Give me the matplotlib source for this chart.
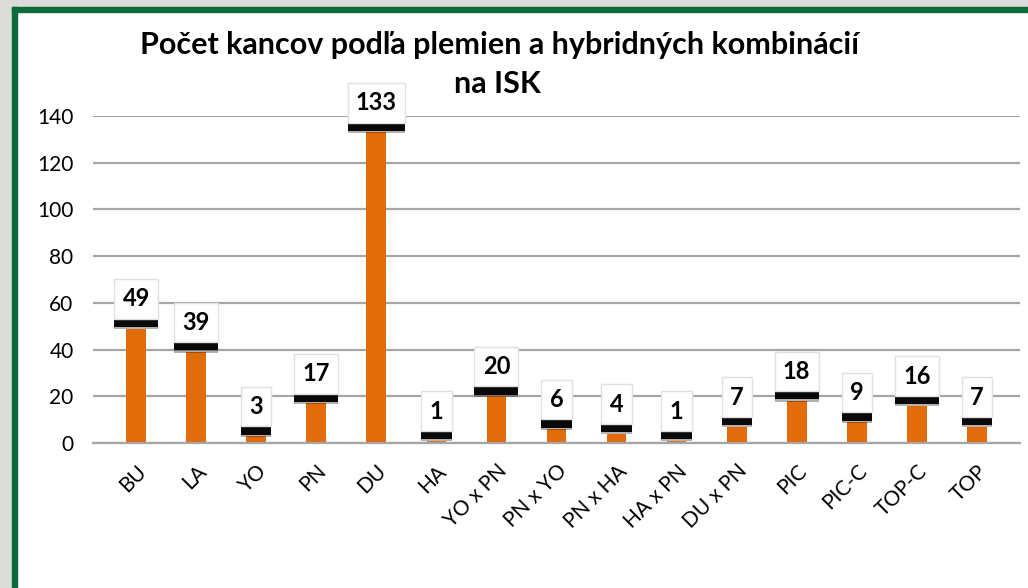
import matplotlib
matplotlib.use("Agg")
import matplotlib.pyplot as plt
import matplotlib.patheffects as pe
from matplotlib.patches import Rectangle

categories = ["BU", "LA", "YO", "PN", "DU", "HA", "YO x PN", "PN x YO", "PN x HA",
              "HA x PN", "DU x PN", "PIC", "PIC-C", "TOP-C", "TOP"]
counts = [49, 39, 3, 17, 133, 1, 20, 6, 4, 1, 7, 18, 9, 16, 7]
yticks = [0, 20, 40, 60, 80, 100, 120, 140]
title_lines = ["Počet kancov podľa plemien a hybridných kombinácií", "na ISK"]

plt.rcParams["font.family"] = ["Lato", "DejaVu Sans"]

fig = plt.figure(figsize=(10.28, 5.88), dpi=100, facecolor="white")
W, H = 1028, 588
# textured frame strips + green border
fig.patches.append(Rectangle((0, 0), 12 / W, 1, transform=fig.transFigure, color="#dcdcd8", zorder=0))
fig.patches.append(Rectangle((0, 1 - 7 / H), 1, 7 / H, transform=fig.transFigure, color="#dcdcd8", zorder=0))
fig.patches.append(Rectangle((12 / W, 0), 5 / W, 1 - 7 / H, transform=fig.transFigure, color="#0b6b3a", zorder=1))
fig.patches.append(Rectangle((12 / W, 1 - 12 / H), 1 - 12 / W, 5 / H, transform=fig.transFigure, color="#0b6b3a", zorder=1))

ax = fig.add_axes([93 / W, 145 / H, 927 / W, 327 / H])
ax.set_facecolor("none")
x = range(len(categories))
ax.bar(x, counts, width=0.33, color="#e36c0a", zorder=2)
ax.set_xlim(-0.72, len(categories) - 0.28)
ax.set_ylim(0, 140)
ax.set_yticks(yticks)
ax.yaxis.grid(True, color="#a6a6a6", lw=1.6, zorder=0)
for s in ["top", "right", "left"]:
    ax.spines[s].set_visible(False)
ax.spines["bottom"].set_color("#a6a6a6")
ax.spines["bottom"].set_linewidth(1.6)
ax.tick_params(length=0, labelsize=15, colors="black")
ax.tick_params(axis="y", pad=14)
ax.tick_params(axis="x", pad=13)
ax.set_xticks(list(x))
ax.set_xticklabels(categories, rotation=45, ha="right", rotation_mode="anchor")

# value labels: white box with a dark shadow underneath
for xi, v in zip(x, counts):
    t = ax.annotate(str(v), (xi, v), xytext=(0, 13), textcoords="offset points",
                    ha="center", va="bottom", fontsize=17, fontweight="bold", zorder=5,
                    bbox=dict(boxstyle="square,pad=0.35", fc="white", ec="#e0e0e0", lw=1))
    t.get_bbox_patch().set_path_effects([
        pe.SimplePatchShadow(offset=(0, -7.5), shadow_rgbFace="black", alpha=0.3),
        pe.SimplePatchShadow(offset=(0, -6), shadow_rgbFace="black", alpha=0.95),
        pe.Normal()])

# title as two separate lines
fig.text(0.486, 1 - 45 / H, title_lines[0], ha="center", va="center", fontsize=22, fontweight="bold")
fig.text(0.484, 1 - 84 / H, title_lines[1], ha="center", va="center", fontsize=22, fontweight="bold")

fig.savefig("out.png", dpi=100, facecolor=fig.get_facecolor())
